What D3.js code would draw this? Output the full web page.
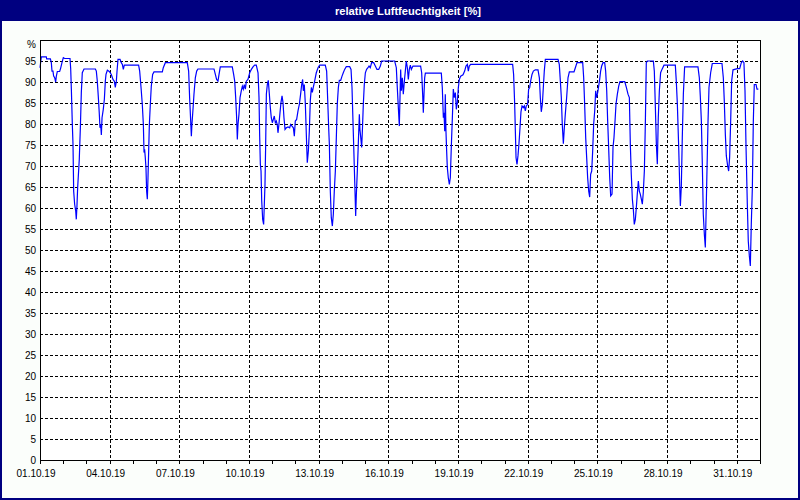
<!DOCTYPE html>
<html><head><meta charset="utf-8">
<script src="https://cdn.jsdelivr.net/npm/d3@7"></script>
<style>body{margin:0;background:#fff} svg{display:block}</style>
</head><body><svg id="c" width="800" height="500"></svg>
<script>
const title = "relative Luftfeuchtigkeit [%]";
const startDate = Date.UTC(2019, 9, 1);
const endDate = Date.UTC(2019, 10, 1);
// hours since 01.10.19 00:00
const hours = [0,1.4,6.5,6.9,10.7,11.7,12.4,13.4,14.1,15.2,16.2,16.9,17.9,20.3,21.3,22.7,24.1,25.5,31.0,31.7,32.4,33.4,34.1,34.8,35.8,36.9,37.5,38.2,38.9,39.6,40.6,41.7,42.7,43.7,45.5,57.2,58.2,59.2,60.3,61.3,62.0,62.7,63.4,64.1,65.4,66.5,67.5,68.2,69.6,71.6,73.7,75.4,76.8,77.8,78.9,79.6,80.6,82.7,84.0,85.1,86.1,87.1,101.9,103.0,104.4,105.7,106.8,107.5,108.1,108.8,109.5,110.2,110.9,111.6,112.3,113.0,114.0,115.0,116.4,117.8,126.4,127.4,129.5,152.2,153.6,154.6,155.7,156.4,157.0,158.1,159.1,160.5,161.9,163.2,179.8,181.2,182.5,183.9,
185.0,186.3,198.7,200.1,201.2,202.2,203.2,203.9,204.6,205.6,206.7,208.0,209.1,210.1,211.1,212.2,213.2,214.9,216.7,218.4,220.1,221.8,223.5,225.3,226.3,227.0,227.7,228.4,229.1,230.1,231.1,231.8,232.5,233.2,233.9,234.9,235.9,237.0,238.0,239.0,240.1,241.1,242.1,243.2,244.2,245.2,245.9,246.9,248.0,249.0,250.1,251.1,252.1,253.2,254.5,256.3,258.0,259.0,260.4,261.8,262.8,263.8,265.2,266.6,268.0,269.3,270.4,271.4,272.1,273.1,274.2,275.2,276.2,277.3,278.3,279.3,280.4,281.4,282.4,283.8,285.5,287.3,289.0,294.8,296.2,297.2,298.3,299.0,300.0,301.0,302.1,303.1,304.1,305.2,306.2,307.2,308.3,309.3,310.7,312.1,313.4,314.8,316.5,320.0,321.4,322.4,323.4,324.5,325.5,326.2,326.9,327.9,328.9,330.0,330.6,331.3,332.4,333.1,334.1,335.1,336.2,337.5,338.9,340.0,341.3,342.7,344.8,346.5,348.2,350.0,351.7,353.0,366.5,368.2,369.2,
371.3,372.0,372.7,373.4,374.4,375.4,376.5,377.5,378.5,379.6,380.6,381.6,382.7,383.7,385.4,393.3,394.4,395.4,396.1,396.8,397.5,398.2,414.7,415.7,416.8,417.5,418.2,418.8,419.5,420.2,420.9,421.9,423.0,424.0,425.0,426.1,427.1,428.1,429.2,430.2,431.2,432.3,433.3,434.7,437.1,438.8,440.2,441.6,442.6,443.6,445.0,488.4,489.4,490.5,491.2,491.9,492.9,493.9,494.9,496.0,497.0,498.1,499.4,500.5,501.5,502.5,503.9,504.9,506.0,507.0,508.4,509.8,511.8,514.6,516.0,517.0,518.0,519.1,520.1,521.1,522.2,535.3,536.6,537.7,538.7,539.7,540.8,541.8,542.8,544.2,545.6,547.0,551.8,553.2,554.9,
560.8,561.8,562.8,563.9,564.9,565.9,567.0,568.0,569.0,570.1,571.1,572.1,573.2,574.2,575.2,576.3,577.3,578.3,579.3,580.4,581.8,583.5,584.5,585.6,586.6,587.6,588.7,589.7,591.1,592.1,593.1,594.2,595.2,596.6,598.0,599.3,604.2,605.9,607.6,609.0,610.0,611.0,612.1,613.1,614.1,615.2,616.2,617.2,618.3,619.3,620.3,621.4,622.4,623.4,624.5,625.5,626.5,627.6,633.8,634.8,635.8,636.9,637.9,638.9,640.0,641.3,642.7,644.8,656.5,657.5,658.6,660.0,661.0,661.7,662.7,663.7,664.8,666.1,679.9,681.3,682.3,683.4,684.4,685.4,686.5,687.5,688.2,689.2,690.3,691.3,693.0,694.7,704.7,706.1,707.1,708.2,709.2,710.6,711.6,712.6,713.7,714.7,716.1,720.6,723.0,724.7,726.1,727.4,728.5,729.5,730.9,731.9,733.0,734.0,735.0,736.1,737.1,738.1,739.9,740.9,742.3];
// relative humidity [%]
const humidity = [93.4,96.0,96.0,95.5,95.5,94.6,92.6,92.6,91.4,91.0,90.0,91.4,92.5,92.5,93.25,94.6,95.8,95.6,95.6,93.25,88.3,79.9,75.2,64.0,60.9,59.3,57.3,60.5,64.8,67.6,71.6,79.1,87.5,92.2,93.1,93.1,92.6,90.2,86.3,82.3,79.1,79.9,77.4,81.5,83.5,85.9,90.2,91.8,92.8,92.5,91.8,90.6,90.2,88.7,90.2,92.6,95.4,95.4,94.6,94.2,93.0,94.0,94.0,92.6,88.7,84.7,79.9,73.2,74.0,72.0,69.6,64.0,62.1,67.2,73.6,79.9,84.7,89.0,91.8,92.4,92.4,93.4,94.6,94.6,92.6,86.3,80.7,77.1,79.9,83.5,87.1,91.0,92.6,93.1,93.1,91.8,90.6,90.2,
91.8,93.6,93.6,91.8,90.2,86.3,81.5,76.3,79.9,82.3,86.3,87.9,89.0,88.3,89.4,88.3,90.2,90.6,92.2,93.0,93.6,94.0,94.0,92.2,86.3,77.1,70.4,68.8,61.7,57.3,56.1,60.9,65.6,75.2,87.1,89.4,90.4,87.1,83.9,81.5,80.3,81.1,81.9,80.3,80.7,79.8,77.9,79.9,82.7,85.1,86.7,85.1,81.5,78.7,79.1,79.3,79.1,79.9,79.5,79.1,77.1,80.7,81.1,83.1,84.7,87.1,89.4,90.6,87.9,89.4,84.7,77.5,70.8,73.6,78.3,85.5,88.7,87.5,88.7,90.2,92.2,93.4,94.0,94.0,92.6,86.3,79.1,75.2,64.0,57.7,55.7,58.5,64.0,68.8,76.7,84.7,88.7,90.4,90.4,91.4,92.2,93.0,93.65,93.65,93.0,88.7,80.7,72.0,64.0,58.1,63.3,68.8,75.2,82.3,78.7,77.1,74.4,78.3,84.7,89.4,92.2,93.0,93.4,93.8,93.4,94.6,94.6,93.8,93.0,93.0,93.8,95.0,95.0,93.4,88.7,
79.5,86.3,93.0,87.9,91.0,87.1,90.2,92.6,95.0,93.4,90.6,93.0,94.0,93.0,93.8,93.8,92.2,87.1,82.7,87.1,91.0,92.1,92.1,88.7,81.5,82.7,78.3,87.1,78.3,73.6,69.6,67.2,65.6,67.2,74.4,81.5,88.3,86.3,87.5,83.5,85.1,88.7,90.6,91.4,91.7,92.6,93.8,94.2,92.6,93.8,94.2,94.2,91.8,84.7,78.3,72.0,70.4,72.4,75.2,79.1,82.9,84.3,83.9,84.3,83.1,84.3,84.7,88.3,88.7,90.2,91.8,92.6,92.9,92.9,91.0,86.3,82.9,84.7,88.7,92.6,95.4,95.4,94.2,90.2,86.3,79.9,75.3,79.1,82.3,86.3,91.0,92.4,92.4,93.4,94.6,
94.6,91.0,84.7,76.7,72.0,67.2,64.0,62.6,68.0,68.8,73.6,79.9,83.1,87.9,86.3,87.5,89.0,90.6,92.6,93.8,94.6,94.6,92.6,87.9,80.7,74.4,67.2,62.9,63.3,74.4,76.7,80.7,84.7,87.1,89.0,90.1,90.1,88.7,87.1,86.3,75.2,68.0,62.1,59.7,56.1,57.3,60.1,63.3,66.4,64.0,63.3,62.1,60.9,63.7,68.8,79.9,94.6,95.0,95.0,92.6,84.7,75.2,70.4,81.5,87.9,92.2,93.0,94.0,94.0,90.2,84.7,74.4,65.6,60.5,65.2,76.7,87.1,93.6,93.6,91.0,86.7,80.7,70.4,58.5,53.7,50.6,57.7,68.8,80.7,88.7,92.2,94.4,94.4,91.0,85.5,77.5,72.4,70.0,68.8,72.0,80.7,90.2,92.9,93.2,93.2,94.6,95.0,94.6,87.9,75.2,60.9,52.1,48.6,46.2,56.1,64.8,80.7,89.4,89.4,88.3,88.3];
const yTicks = d3.range(0, 100, 5);
const yUnit = "%";
const yMax = 100;

const W = 800, H = 500;
const M = {left: 40, top: 40, right: 760, bottom: 460};
const svg = d3.select("#c");

const x = d3.scaleUtc().domain([startDate, endDate]).range([M.left, M.right]);
const y = d3.scaleLinear().domain([0, yMax]).range([M.bottom, M.top]);

const data = hours.map((h, i) => ({t: new Date(startDate + h * 3600e3), v: humidity[i]}));

// frame / background
svg.append("rect").attr("x", 0).attr("y", 0).attr("width", W).attr("height", H).attr("fill", "#000080");
svg.append("rect").attr("x", 2).attr("y", 21).attr("width", W - 4).attr("height", H - 23).attr("fill", "#fbfefb");
svg.append("text").attr("x", 408).attr("y", 14.5).attr("text-anchor", "middle")
  .attr("font-family", "Liberation Sans, Arial, sans-serif").attr("font-weight", "bold").attr("font-size", 11.5)
  .attr("fill", "#fff").attr("textLength", 146).attr("lengthAdjust", "spacingAndGlyphs").text(title);

svg.append("rect").attr("x", M.left).attr("y", M.top).attr("width", M.right - M.left).attr("height", M.bottom - M.top)
  .attr("fill", "#ffffff");

// grid
const gridDays = d3.utcDay.every(3).range(new Date(startDate + 1), new Date(endDate));
svg.append("g").selectAll("line").data(yTicks.filter(d => d > 0)).join("line")
  .attr("x1", M.left).attr("x2", M.right).attr("y1", d => y(d) + 0.5).attr("y2", d => y(d) + 0.5)
  .attr("stroke", "#000").attr("stroke-dasharray", "3,2").attr("shape-rendering", "crispEdges");
svg.append("g").selectAll("line").data(gridDays).join("line")
  .attr("x1", d => Math.round(x(d)) + 0.5).attr("x2", d => Math.round(x(d)) + 0.5).attr("y1", M.top).attr("y2", M.bottom)
  .attr("stroke", "#000").attr("stroke-dasharray", "3,2").attr("shape-rendering", "crispEdges");

// line
const line = d3.line().x(d => x(d.t)).y(d => y(d.v));
svg.append("path").datum(data).attr("d", line).attr("fill", "none").attr("stroke", "#0000ff").attr("stroke-width", 1.2)
  .attr("stroke-linejoin", "miter");

// plot frame
svg.append("rect").attr("x", M.left + 0.5).attr("y", M.top + 0.5).attr("width", M.right - M.left).attr("height", M.bottom - M.top)
  .attr("fill", "none").attr("stroke", "#000").attr("shape-rendering", "crispEdges");

// x axis ticks
const xAxis = d3.axisBottom(x).ticks(d3.utcDay.every(1)).tickSize(3).tickFormat("");
const gx = svg.append("g").attr("transform", `translate(0,${M.bottom + 0.5})`).call(xAxis);
gx.select(".domain").remove();
gx.selectAll(".tick line").attr("shape-rendering", "crispEdges");

const labelDays = d3.utcDay.every(3).range(new Date(startDate), new Date(endDate));
svg.append("g").selectAll("text").data(labelDays).join("text")
  .attr("x", d => x(d) - 4).attr("y", 477).attr("text-anchor", "middle")
  .attr("font-family", "Liberation Sans, Arial, sans-serif").attr("font-size", 10).attr("fill", "#000")
  .text(d3.utcFormat("%d.%m.%y"));

// y labels
svg.append("g").selectAll("text").data(yTicks).join("text")
  .attr("x", 36).attr("y", d => y(d) + 3.5).attr("text-anchor", "end")
  .attr("font-family", "Liberation Sans, Arial, sans-serif").attr("font-size", 10).attr("fill", "#000")
  .text(d => d);
svg.append("text").attr("x", 36).attr("y", y(yMax) + 8).attr("text-anchor", "end")
  .attr("font-family", "Liberation Sans, Arial, sans-serif").attr("font-size", 10).attr("fill", "#000").text(yUnit);
</script></body></html>
